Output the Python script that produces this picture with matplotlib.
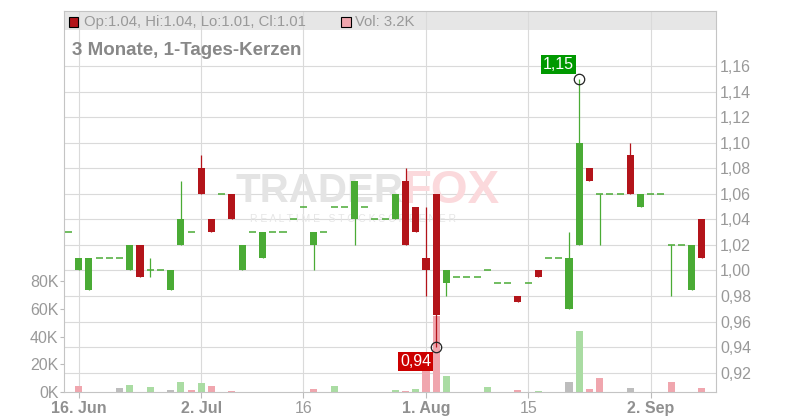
import matplotlib
matplotlib.use("Agg")
import matplotlib.pyplot as plt
from matplotlib.patches import Rectangle
from matplotlib.ticker import FuncFormatter
import numpy as np
import pandas as pd

plt.rcParams['font.family'] = ['Liberation Sans', 'DejaVu Sans']

# trading days shown (13 Jun - 9 Sep 2025)
dates = pd.bdate_range('2025-06-13', '2025-09-09')

opens = [1.03, 1.00, 0.985, 1.01, 1.01, 1.01, 1.00, 1.02, 1.00, 1.00,
         0.985, 1.02, 1.03, 1.08, 1.04, 1.06, 1.06, 1.00, 1.03, 1.01,
         1.03, 1.03, 1.04, 1.05, 1.02, 1.03, 1.05, 1.05, 1.04, 1.05,
         1.04, 1.04, 1.04, 1.07, 1.05, 1.01, 1.06, 0.99, 0.995, 0.995,
         0.995, 1.00, 0.99, 0.99, 0.98, 0.99, 1.00, 1.01, 1.01, 0.97,
         1.02, 1.08, 1.06, 1.06, 1.06, 1.09, 1.05, 1.06, 1.06, 1.02,
         1.02, 0.985, 1.04]
highs = [1.03, 1.01, 1.01, 1.01, 1.01, 1.01, 1.02, 1.02, 1.01, 1.00,
         1.00, 1.07, 1.03, 1.09, 1.04, 1.06, 1.06, 1.02, 1.03, 1.03,
         1.03, 1.03, 1.04, 1.05, 1.03, 1.03, 1.05, 1.05, 1.07, 1.05,
         1.04, 1.04, 1.06, 1.08, 1.05, 1.05, 1.06, 1.00, 0.995, 0.995,
         0.995, 1.00, 0.99, 0.99, 0.98, 0.99, 1.00, 1.01, 1.01, 1.03,
         1.15, 1.08, 1.06, 1.06, 1.06, 1.10, 1.06, 1.06, 1.06, 1.02,
         1.02, 1.02, 1.04]
lows = [1.03, 1.00, 0.985, 1.01, 1.01, 1.01, 1.00, 0.995, 0.995, 1.00,
        0.985, 1.02, 1.03, 1.06, 1.03, 1.06, 1.04, 1.00, 1.03, 1.01,
        1.03, 1.03, 1.04, 1.05, 1.00, 1.03, 1.05, 1.05, 1.02, 1.05,
        1.04, 1.04, 1.04, 1.02, 1.03, 0.98, 0.94, 0.98, 0.995, 0.995,
        0.995, 1.00, 0.99, 0.99, 0.975, 0.99, 0.995, 1.01, 1.01, 0.97,
        1.02, 1.07, 1.02, 1.06, 1.06, 1.06, 1.05, 1.06, 1.06, 0.98,
        1.02, 0.985, 1.01]
closes = [1.03, 1.01, 1.01, 1.01, 1.01, 1.01, 1.02, 0.995, 1.00, 1.00,
          1.00, 1.04, 1.03, 1.06, 1.03, 1.06, 1.04, 1.02, 1.03, 1.03,
          1.03, 1.03, 1.04, 1.05, 1.03, 1.03, 1.05, 1.05, 1.07, 1.05,
          1.04, 1.04, 1.06, 1.02, 1.03, 1.00, 0.965, 1.00, 0.995, 0.995,
          0.995, 1.00, 0.99, 0.99, 0.975, 0.99, 0.995, 1.01, 1.01, 1.01,
          1.10, 1.07, 1.06, 1.06, 1.06, 1.06, 1.06, 1.06, 1.06, 1.02,
          1.02, 1.02, 1.01]
volumes = [0, 4500, 0, 0, 0, 2600, 5300, 0, 3800, 0,
           1200, 7500, 1700, 6700, 4500, 0, 1000, 0, 0, 0,
           0, 0, 0, 0, 1900, 0, 4100, 0, 0, 0,
           0, 0, 1200, 700, 2400, 16600, 55000, 11800, 0, 0,
           0, 3400, 0, 0, 1700, 0, 1000, 0, 0, 7500,
           44000, 2400, 10300, 0, 0, 3100, 0, 0, 0, 7000,
           0, 0, 3200]

tick_dates = ['2025-06-16', '2025-07-02', '2025-07-16', '2025-08-01', '2025-08-15', '2025-09-02']
tick_labels = ['16. Jun', '2. Jul', '16', '1. Aug', '15', '2. Sep']
price_ticks = np.arange(0.92, 1.165, 0.02)
vol_ticks = [0, 20000, 40000, 60000, 80000]

GREEN, RED = '#4aab35', '#b3141a'
VGREEN, VPINK, VGRAY = '#aadca3', '#f0a6ae', '#bdbdbd'
GRID = '#dadada'
LBL = '#999999'

o, h, l, c = map(np.array, (opens, highs, lows, closes))
v = np.array(volumes)
x = np.arange(len(dates))
W = 0.69

fig = plt.figure(figsize=(8, 4.2), dpi=100)
axv = fig.add_axes([64 / 800, 28 / 420, 652 / 800, 381 / 420])
ax = axv.twinx()

# header band + grid
axv.add_patch(Rectangle((0, 362 / 381), 1, 19 / 381, transform=axv.transAxes,
                        fc='#e6e6e6', ec='none', zorder=0.5))
tick_idx = dates.get_indexer(pd.to_datetime(tick_dates))
axv.vlines(tick_idx, 0, 1, transform=axv.get_xaxis_transform(), color=GRID, lw=0.8, zorder=1)
axv.hlines(price_ticks, -2, 70, transform=ax.transData, color=GRID, lw=0.8, zorder=1)

# watermark
axv.text(403 / 800, 1 - 191 / 420, 'TRADER', transform=fig.transFigure, ha='right', va='center',
         fontsize=29, fontweight='bold', color='#e4e4e4', zorder=1.5)
axv.text(403 / 800, 1 - 191 / 420, 'FOX', transform=fig.transFigure, ha='left', va='center',
         fontsize=34, fontweight='bold', color='#fbd9dc', zorder=1.5)
axv.text(250 / 800, 1 - 219 / 420, 'R E A L T I M E   S T O C K S C R E E N E R',
         transform=fig.transFigure, ha='left', va='center', fontsize=7.5,
         color='#e6e6e6', zorder=1.5)

# volume
prev = np.r_[c[0], c[:-1]]
vcol = np.where(np.isclose(c, prev), VGRAY, np.where(c > prev, VGREEN, VPINK))
axv.bar(x, v, width=W, color=vcol, zorder=2)

# candles
col = np.where(c >= o, GREEN, RED)
ax.vlines(x, l, h, colors=col, lw=0.9, zorder=3)
body = ~np.isclose(o, c)
ax.bar(x[body], (c - o)[body], bottom=o[body], width=W, color=col[body], zorder=4)
ax.hlines(c[~body], x[~body] - W / 2, x[~body] + W / 2, colors=col[~body], lw=1.1, zorder=4)

# extremes
ihi, ilo = int(np.argmax(h)), int(np.argmin(l))
for i, val in ((ihi, h[ihi]), (ilo, l[ilo])):
    ax.plot(i, val, 'o', ms=7.5, mfc='none', mec='#222222', mew=0.9, zorder=6)
ax.annotate(f'{h[ihi]:.2f}'.replace('.', ','), xy=(ihi, h[ihi]), xytext=(-5, 7),
            textcoords='offset pixels', ha='right', va='bottom', fontsize=11.5, color='white',
            bbox=dict(boxstyle='square,pad=0.12', fc='#009900', ec='none'), zorder=7)
ax.annotate(f'{l[ilo]:.2f}'.replace('.', ','), xy=(ilo, l[ilo]), xytext=(-5, -7),
            textcoords='offset pixels', ha='right', va='top', fontsize=11.5, color='white',
            bbox=dict(boxstyle='square,pad=0.12', fc='#cc0000', ec='none'), zorder=7)

# axes
axv.set_xlim(-0.44, 63.39)
axv.set_ylim(0, 275000)
ax.set_ylim(0.9049, 1.2030)

axv.set_yticks(vol_ticks)
axv.yaxis.set_major_formatter(FuncFormatter(lambda val, p: f'{val / 1000:.0f}K'))
axv.tick_params(axis='y', length=3, color='#bbbbbb', pad=1, labelsize=11.5, labelcolor=LBL)
axv.set_xticks(tick_idx)
axv.set_xticklabels(tick_labels)
axv.tick_params(axis='x', length=4, color='#bbbbbb', pad=2.5, labelsize=11.5, labelcolor=LBL)
for t in axv.get_xticklabels():
    if ' ' in t.get_text():
        t.set_fontweight('bold')
        t.set_color('#909090')

ax.set_yticks(price_ticks)
ax.yaxis.set_major_formatter(FuncFormatter(lambda val, p: f'{val:.2f}'.replace('.', ',')))
ax.tick_params(axis='y', length=0, pad=3, labelsize=11.5, labelcolor=LBL)

for s in axv.spines.values():
    s.set_color('#c4c4c4')
for s in ax.spines.values():
    s.set_visible(False)

# header texts
fig.add_artist(Rectangle((68.5 / 800, 1 - 26.5 / 420), 9.5 / 800, 9.5 / 420,
                         transform=fig.transFigure, fc=RED, ec='black', lw=0.8))
fig.text(84 / 800, 1 - 26 / 420,
         f'Op:{o[-1]:.2f}, Hi:{h[-1]:.2f}, Lo:{l[-1]:.2f}, Cl:{c[-1]:.2f}',
         fontsize=10.7, color=LBL, va='baseline')
fig.add_artist(Rectangle((341 / 800, 1 - 26.5 / 420), 9.5 / 800, 9.5 / 420,
                         transform=fig.transFigure, fc=VPINK, ec='black', lw=0.8))
fig.text(355 / 800, 1 - 26 / 420, f'Vol: {v[-1] / 1000:.1f}K',
         fontsize=10.7, color=LBL, va='baseline')
fig.text(72 / 800, 1 - 55 / 420, '3 Monate, 1-Tages-Kerzen', fontsize=13.5,
         fontweight='bold', color='#888888', va='baseline')

fig.savefig('out.png', dpi=100)
